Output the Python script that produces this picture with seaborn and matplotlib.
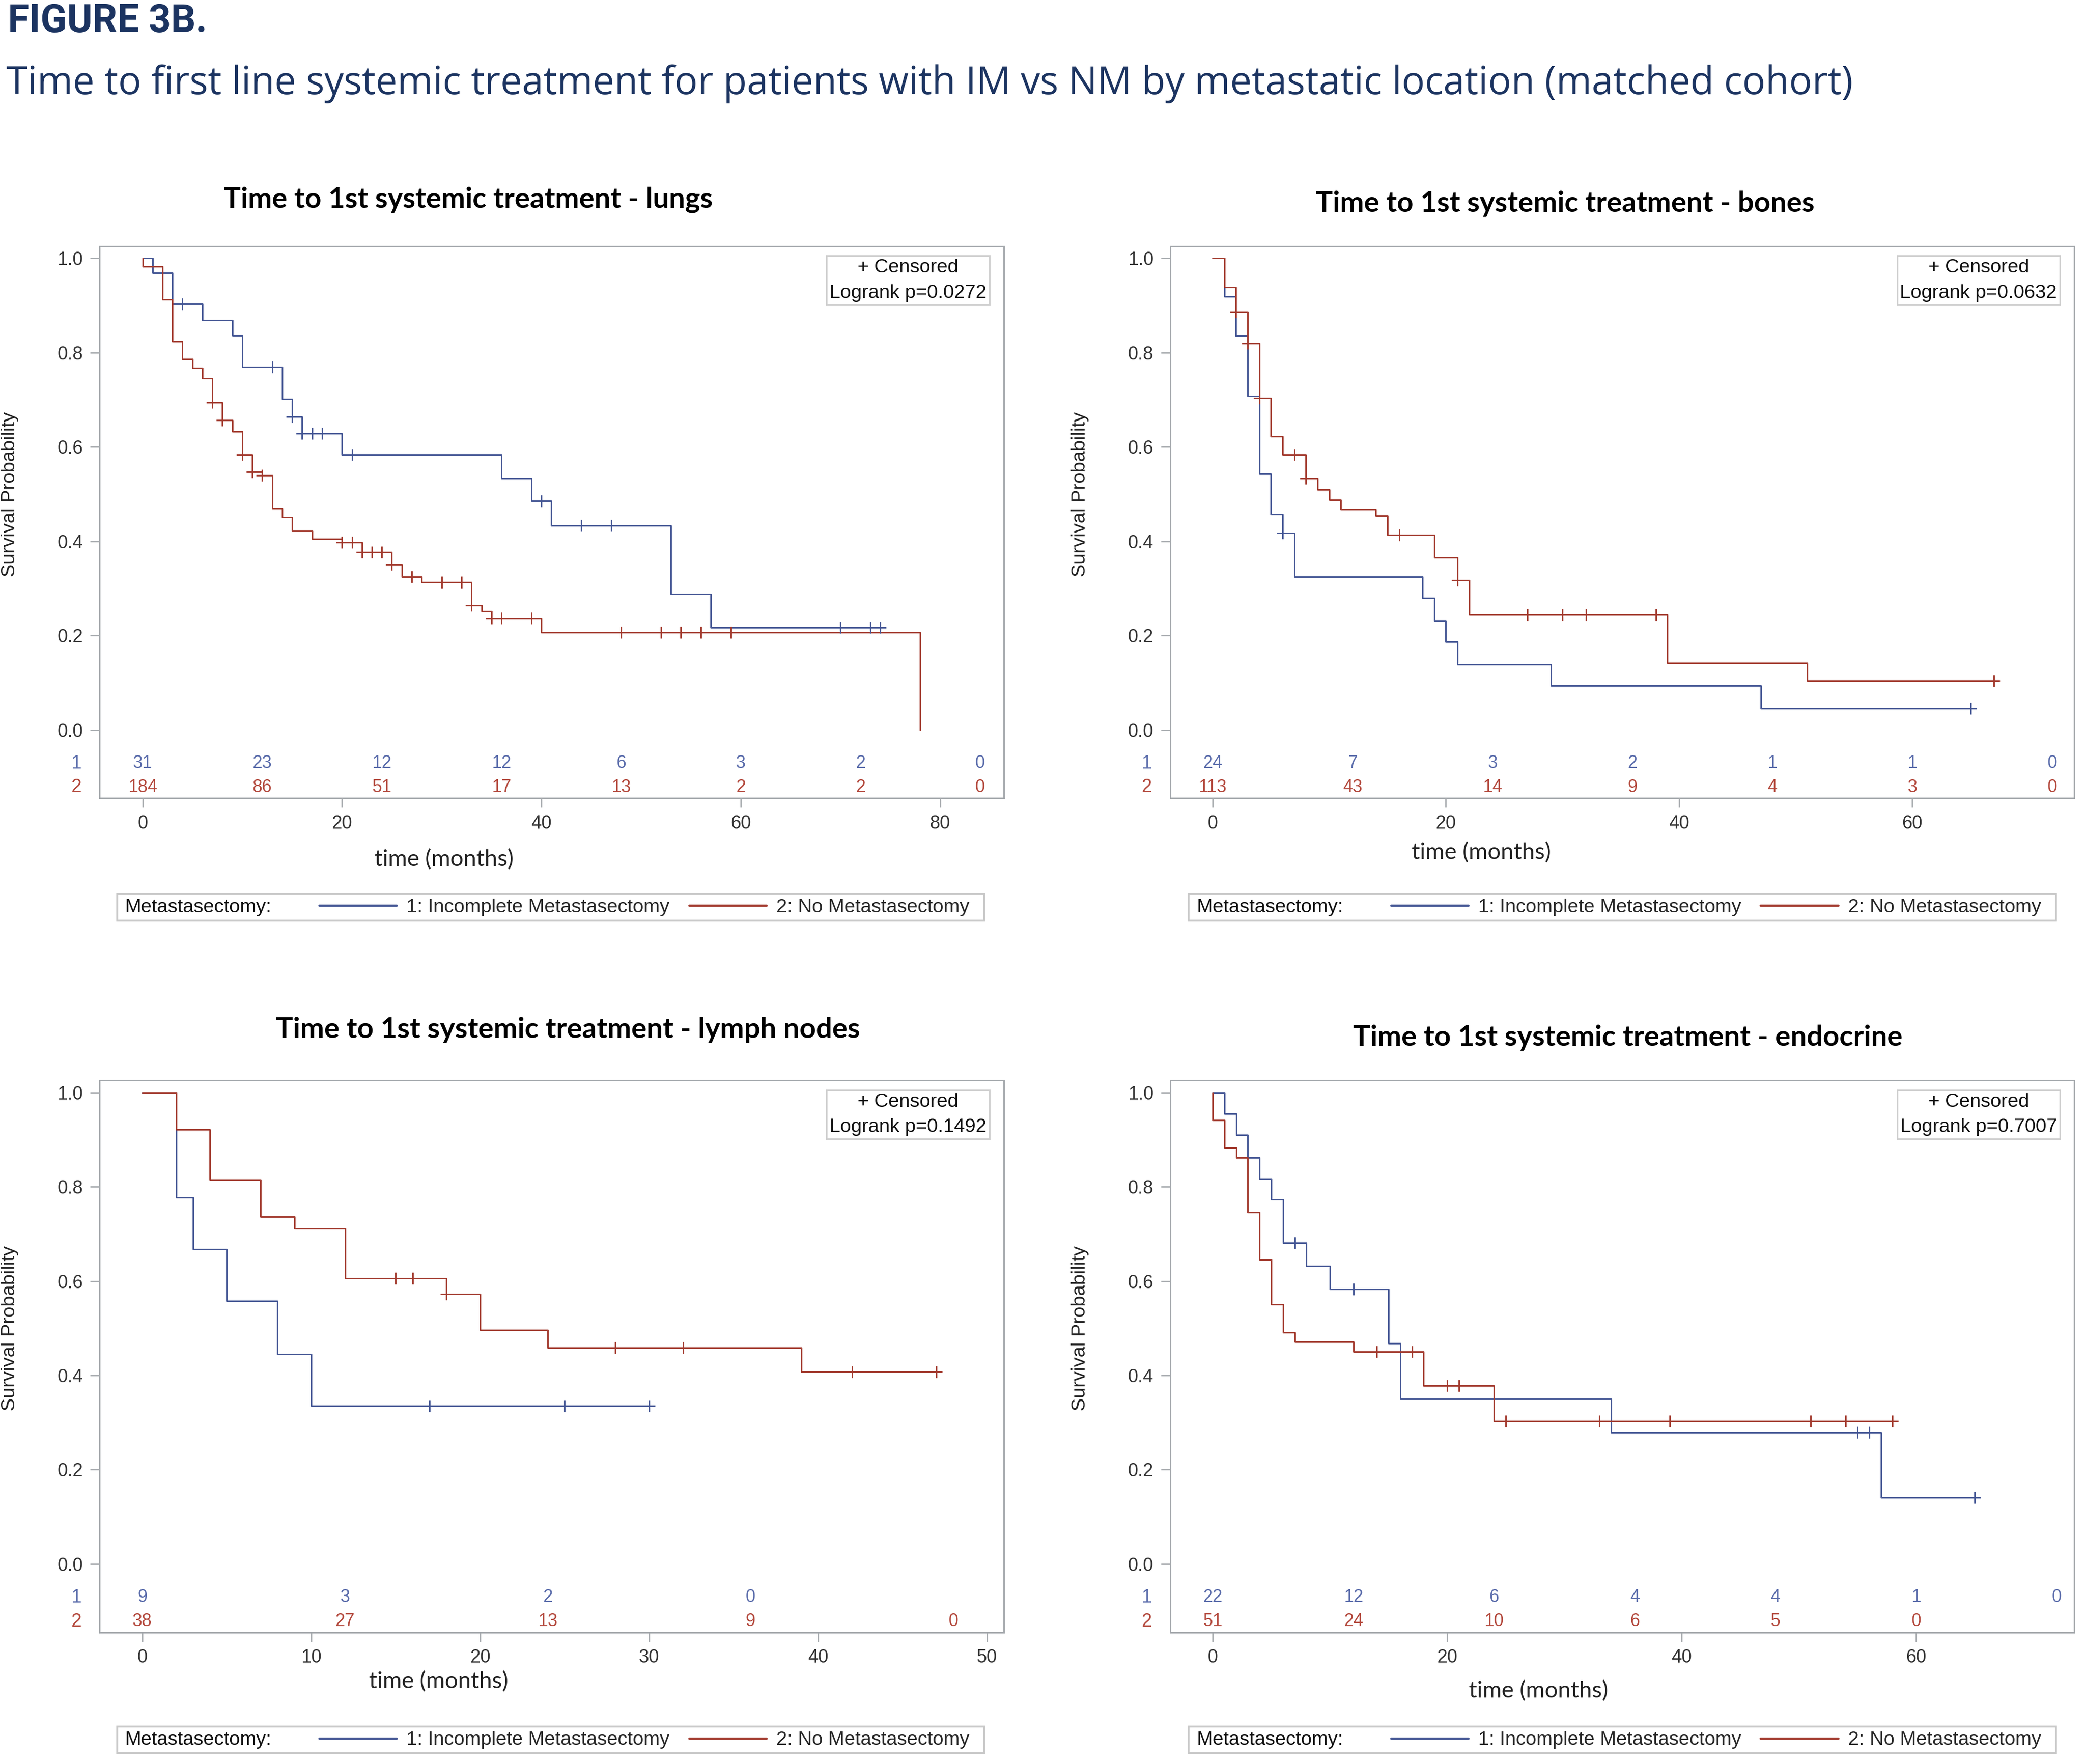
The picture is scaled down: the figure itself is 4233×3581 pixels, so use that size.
import numpy as np
import pandas as pd
import matplotlib
matplotlib.use("Agg")
import matplotlib.pyplot as plt
import matplotlib.transforms as mtransforms
from matplotlib.lines import Line2D
from matplotlib.patches import Rectangle
import seaborn as sns

# ---------------- data ----------------
# lungs
lungs_im_t = [0, 1, 3, 6, 9, 10, 14, 15, 16, 20, 36, 39, 41, 53, 57]
lungs_im_s = [1.0, 0.969, 0.903, 0.869, 0.836, 0.770, 0.702, 0.664, 0.629, 0.584, 0.533, 0.485, 0.433, 0.288, 0.217]
lungs_im_end = 74
lungs_im_cens = [4, 13, 15, 16, 17, 18, 21, 40, 44, 47, 70, 73, 74]
lungs_nm_t = [0, 0, 2, 3, 4, 5, 6, 7, 8, 9, 10, 11, 12, 13, 14, 15, 17, 20, 22, 25, 26, 28, 33, 34, 35, 40, 78]
lungs_nm_s = [1.0, 0.983, 0.913, 0.824, 0.786, 0.767, 0.746, 0.694, 0.657, 0.633, 0.584, 0.547, 0.540, 0.470,
              0.451, 0.422, 0.405, 0.398, 0.377, 0.351, 0.324, 0.313, 0.264, 0.251, 0.237, 0.206, 0.0]
lungs_nm_end = 78
lungs_nm_cens = [7, 8, 10, 11, 12, 20, 21, 22, 23, 24, 25, 27, 30, 32, 33, 35, 36, 39, 48, 52, 54, 56, 59]
lungs_risk_t = [0, 12, 24, 36, 48, 60, 72, 84]
lungs_risk_im = [31, 23, 12, 12, 6, 3, 2, 0]
lungs_risk_nm = [184, 86, 51, 17, 13, 2, 2, 0]

# bones
bones_im_t = [0, 1, 2, 3, 4, 5, 6, 7, 18, 19, 20, 21, 29, 47]
bones_im_s = [1.0, 0.919, 0.835, 0.708, 0.543, 0.457, 0.417, 0.324, 0.280, 0.231, 0.187, 0.139, 0.094, 0.046]
bones_im_end = 65
bones_im_cens = [6, 65]
bones_nm_t = [0, 1, 2, 3, 4, 5, 6, 8, 9, 10, 11, 14, 15, 19, 21, 22, 39, 51]
bones_nm_s = [1.0, 0.939, 0.887, 0.820, 0.704, 0.622, 0.584, 0.533, 0.509, 0.488, 0.468, 0.454, 0.413,
              0.365, 0.317, 0.244, 0.142, 0.104]
bones_nm_end = 67
bones_nm_cens = [2, 3, 4, 7, 8, 16, 21, 27, 30, 32, 38, 67]
bones_risk_t = [0, 12, 24, 36, 48, 60, 72]
bones_risk_im = [24, 7, 3, 2, 1, 1, 0]
bones_risk_nm = [113, 43, 14, 9, 4, 3, 0]

# lymph nodes
lymph_im_t = [0, 2, 3, 5, 8, 10]
lymph_im_s = [1.0, 0.777, 0.667, 0.558, 0.445, 0.335]
lymph_im_end = 30
lymph_im_cens = [17, 25, 30]
lymph_nm_t = [0, 2, 4, 7, 9, 12, 18, 20, 24, 39]
lymph_nm_s = [1.0, 0.921, 0.815, 0.736, 0.711, 0.606, 0.572, 0.496, 0.459, 0.407]
lymph_nm_end = 47
lymph_nm_cens = [15, 16, 18, 28, 32, 42, 47]
lymph_risk_t_im = [0, 12, 24, 36]
lymph_risk_im = [9, 3, 2, 0]
lymph_risk_t_nm = [0, 12, 24, 36, 48]
lymph_risk_nm = [38, 27, 13, 9, 0]

# endocrine
endo_im_t = [0, 1, 2, 3, 4, 5, 6, 8, 10, 15, 16, 34, 57]
endo_im_s = [1.0, 0.955, 0.910, 0.862, 0.817, 0.773, 0.681, 0.632, 0.583, 0.468, 0.350, 0.279, 0.141]
endo_im_end = 65
endo_im_cens = [7, 12, 55, 56, 65]
endo_nm_t = [0, 0, 1, 2, 3, 4, 5, 6, 7, 12, 18, 24]
endo_nm_s = [1.0, 0.941, 0.883, 0.862, 0.746, 0.646, 0.550, 0.491, 0.471, 0.450, 0.378, 0.303]
endo_nm_end = 58
endo_nm_cens = [14, 17, 20, 21, 25, 33, 39, 51, 54, 58]
endo_risk_t_im = [0, 12, 24, 36, 48, 60, 72]
endo_risk_im = [22, 12, 6, 4, 4, 1, 0]
endo_risk_t_nm = [0, 12, 24, 36, 48, 60]
endo_risk_nm = [51, 24, 10, 6, 5, 0]

pvalues = ["0.0272", "0.0632", "0.1492", "0.7007"]
titles = ["Time to 1st systemic treatment - lungs",
          "Time to 1st systemic treatment - bones",
          "Time to 1st systemic treatment - lymph nodes",
          "Time to 1st systemic treatment - endocrine"]

BLUE = "#445694"
RED = "#a23a2e"
BLUE_TXT = "#5a6cab"
RED_TXT = "#b3483c"
NAVY = "#1c3461"
GRAY = "#a3a7ab"

sns.set_style("ticks")
plt.rcParams["font.family"] = ["Liberation Sans", "DejaVu Sans"]

W, H = 1568.0, 1326.0  # layout grid of the reference page


def fx(x):
    return x / W


def fy(y):
    return 1 - y / H


fig = plt.figure(figsize=(4233 / 270, 3581 / 270), dpi=270)
fig.patch.set_facecolor("white")

fig.text(fx(6), fy(16), "FIGURE 3B.", color=NAVY, fontsize=21, fontweight="bold",
         family=["Roboto", "DejaVu Sans"], ha="left", va="center")
fig.text(fx(5), fy(63), "Time to first line systemic treatment for patients with IM vs NM by metastatic "
         "location (matched cohort)", color=NAVY, fontsize=20.8, family=["Open Sans", "DejaVu Sans"],
         ha="left", va="center")


def km_frame(t, s, end):
    t = list(t)
    s = list(s)
    if end > t[-1]:
        t.append(end)
        s.append(s[-1])
    return pd.DataFrame({"time": t, "surv": s})


def at_time(t, s, c):
    idx = np.searchsorted(np.asarray(t, float), np.asarray(c, float), side="right") - 1
    return np.asarray(s)[idx]


panels = [
    dict(pos=(75, 600), xlim=(-4.3, 86.4), xticks=[0, 20, 40, 60, 80],
         im=(lungs_im_t, lungs_im_s, lungs_im_end, lungs_im_cens),
         nm=(lungs_nm_t, lungs_nm_s, lungs_nm_end, lungs_nm_cens),
         risk_im=(lungs_risk_t, lungs_risk_im), risk_nm=(lungs_risk_t, lungs_risk_nm),
         title=(352, 150), xlab=(334, 646), leg=(88, 672)),
    dict(pos=(880, 600), xlim=(-3.65, 73.9), xticks=[0, 20, 40, 60],
         im=(bones_im_t, bones_im_s, bones_im_end, bones_im_cens),
         nm=(bones_nm_t, bones_nm_s, bones_nm_end, bones_nm_cens),
         risk_im=(bones_risk_t, bones_risk_im), risk_nm=(bones_risk_t, bones_risk_nm),
         title=(1177, 153), xlab=(1114, 641), leg=(894, 672)),
    dict(pos=(75, 1227), xlim=(-2.52, 51.0), xticks=[0, 10, 20, 30, 40, 50],
         im=(lymph_im_t, lymph_im_s, lymph_im_end, lymph_im_cens),
         nm=(lymph_nm_t, lymph_nm_s, lymph_nm_end, lymph_nm_cens),
         risk_im=(lymph_risk_t_im, lymph_risk_im), risk_nm=(lymph_risk_t_nm, lymph_risk_nm),
         title=(427, 774), xlab=(330, 1264), leg=(88, 1298)),
    dict(pos=(880, 1227), xlim=(-3.63, 73.5), xticks=[0, 20, 40, 60],
         im=(endo_im_t, endo_im_s, endo_im_end, endo_im_cens),
         nm=(endo_nm_t, endo_nm_s, endo_nm_end, endo_nm_cens),
         risk_im=(endo_risk_t_im, endo_risk_im), risk_nm=(endo_risk_t_nm, endo_risk_nm),
         title=(1224, 780), xlab=(1157, 1271), leg=(894, 1298)),
]

for i, p in enumerate(panels):
    left, bottom = p["pos"]
    ax = fig.add_axes([fx(left), fy(bottom), 680 / W, 415 / H])

    for grp, col in (("im", BLUE), ("nm", RED)):
        t, s, end, cens = p[grp]
        df = km_frame(t, s, end)
        sns.lineplot(data=df, x="time", y="surv", color=col, estimator=None, sort=False,
                     drawstyle="steps-post", linewidth=0.8, ax=ax, legend=False)
        cy = at_time(t, s, cens)
        sns.scatterplot(x=cens, y=cy, marker="+", color=col, s=42, linewidth=0.8, ax=ax,
                        legend=False, zorder=3)

    ax.set_xlim(*p["xlim"])
    ax.set_ylim(-0.145, 1.026)
    ax.set_xticks(p["xticks"])
    ax.set_yticks([0, 0.2, 0.4, 0.6, 0.8, 1.0])
    ax.set_yticklabels(["{:.1f}".format(v) for v in [0, 0.2, 0.4, 0.6, 0.8, 1.0]])
    ax.tick_params(axis="both", labelsize=10, colors="#333333", length=5, width=0.7, pad=4)
    ax.tick_params(axis="both", color=GRAY)
    for sp in ax.spines.values():
        sp.set_visible(True)
        sp.set_color(GRAY)
        sp.set_linewidth(0.8)
    ax.set_xlabel("")
    ax.set_ylabel("Survival Probability", fontsize=10.5, color="#222222")
    ax.yaxis.set_label_coords(-0.0897, 0.5,
                              transform=mtransforms.blended_transform_factory(ax.transAxes, ax.transData))

    # numbers at risk
    trans = mtransforms.blended_transform_factory(ax.transAxes, ax.transData)
    for (rt, rv), col, yy, lab in ((p["risk_im"], BLUE_TXT, -0.071, "1"),
                                   (p["risk_nm"], RED_TXT, -0.122, "2")):
        for tt, vv in zip(rt, rv):
            ax.text(tt, yy, str(vv), color=col, fontsize=9.5, ha="center", va="center")
        ax.text(-0.026, yy, lab, color=col, fontsize=10, ha="center", va="center", transform=trans)

    ax.text(0.894, 0.938, "+ Censored\nLogrank p=" + pvalues[i], transform=ax.transAxes,
            ha="center", va="center", multialignment="center", fontsize=10.5, color="#111111",
            linespacing=1.55,
            bbox=dict(boxstyle="square,pad=0.15", fc="white", ec="#cfcfcf", lw=0.8))

    tx, ty = p["title"]
    fig.text(fx(tx), fy(ty), titles[i], fontsize=15.5, fontweight="bold", color="black",
             family=["Lato", "DejaVu Sans"], ha="center", va="center")
    lx, ly = p["xlab"]
    fig.text(fx(lx), fy(ly), "time (months)", fontsize=12.5, color="#222222",
             family=["Lato", "DejaVu Sans"], ha="center", va="center")

    # legend strip
    gx, gy = p["leg"]
    fig.patches.append(Rectangle((fx(gx), fy(gy + 20)), 652 / W, 20 / H, transform=fig.transFigure,
                                 fc="white", ec="#c8c8c8", lw=1.0))
    fig.text(fx(gx + 6), fy(gy + 10), "Metastasectomy:", fontsize=10.5, color="#111111",
             ha="left", va="center")
    handles = [Line2D([], [], color=BLUE, lw=1.2), Line2D([], [], color=RED, lw=1.2)]
    fig.legend(handles, ["1: Incomplete Metastasectomy", "2: No Metastasectomy"],
               loc="center left", bbox_to_anchor=(fx(gx + 152), fy(gy + 10)), ncol=2,
               frameon=False, fontsize=10.5, handlelength=4.0, handletextpad=0.5,
               columnspacing=1.0, borderpad=0, borderaxespad=0)

plt.savefig("out.png", dpi=270, facecolor="white")
